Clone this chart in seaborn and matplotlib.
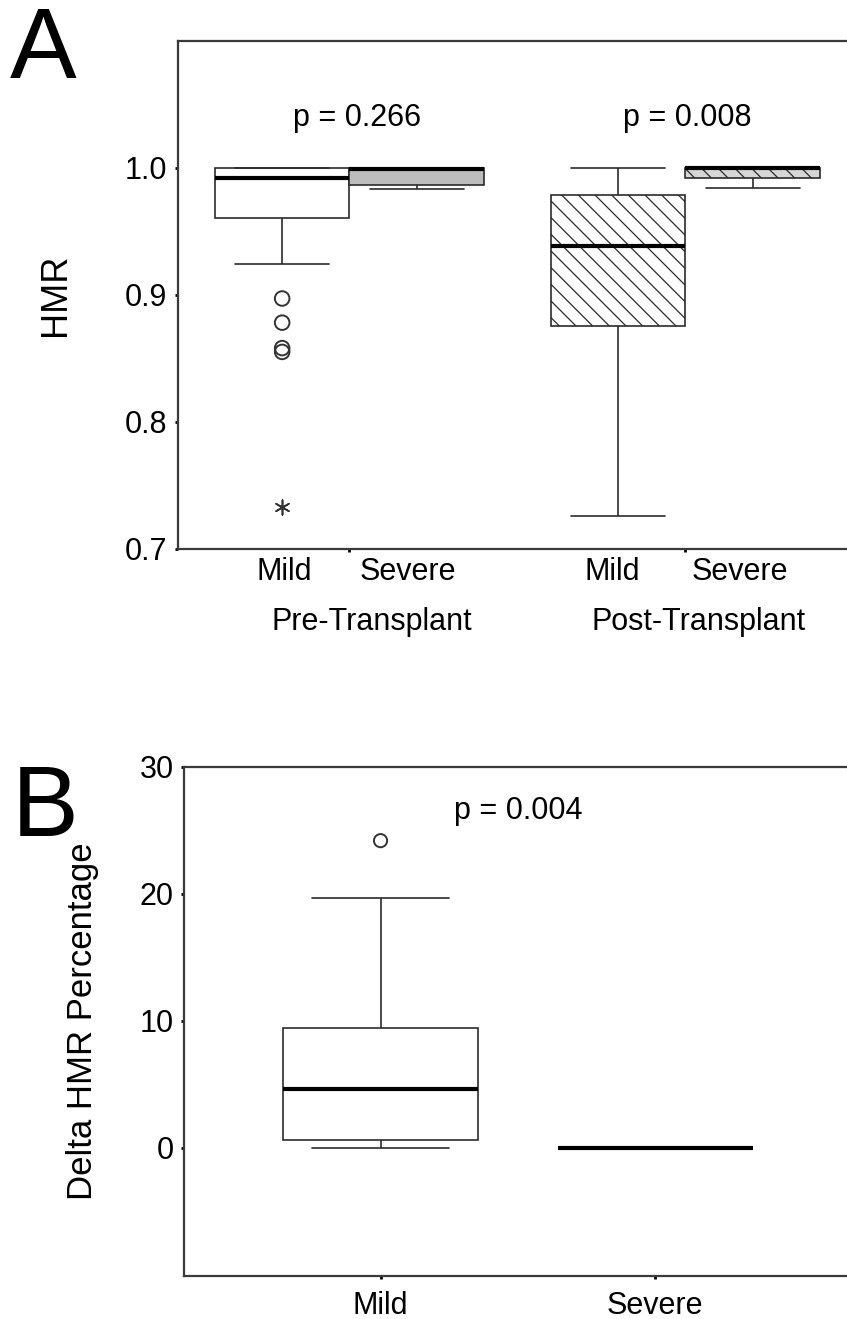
import numpy as np
import pandas as pd
import matplotlib
matplotlib.use("Agg")
import matplotlib.pyplot as plt
import matplotlib.transforms as mtransforms
import seaborn as sns

# ---------------- data ----------------
periods = ["Pre-Transplant", "Post-Transplant"]
severity = ["Mild", "Severe"]
# five-number summaries: lower whisker, Q1, median, Q3, upper whisker
pre_mild = [0.924, 0.960, 0.992, 1.000, 1.000]
pre_severe = [0.983, 0.986, 0.999, 1.000, 1.000]
post_mild = [0.726, 0.875, 0.938, 0.978, 1.000]
post_severe = [0.984, 0.992, 0.9995, 1.000, 1.000]
pre_mild_outliers = [0.897, 0.878, 0.858, 0.855]
pre_mild_extremes = [0.733]
p_texts_A = ["p = 0.266", "p = 0.008"]

delta_mild = [0.0, 0.63, 4.65, 9.45, 19.7]
delta_severe = [0.0, 0.0, 0.0, 0.0, 0.0]
delta_mild_outliers = [24.2]
p_text_B = "p = 0.004"

yticks_A = [0.7, 0.8, 0.9, 1.0]
yticks_B = [0, 10, 20, 30]

# ---------------- style ----------------
sns.set_style("ticks")
plt.rcParams["font.family"] = ["Liberation Sans", "DejaVu Sans"]
plt.rcParams["hatch.linewidth"] = 0.9
for k in ("text.color", "axes.labelcolor", "xtick.color", "ytick.color",
          "xtick.labelcolor", "ytick.labelcolor"):
    plt.rcParams[k] = "black"

W, H = 847, 1319
fig = plt.figure(figsize=(W / 100, H / 100), dpi=100)


def ax_rect(left, top, right, bottom):
    return [left / W, 1 - bottom / H, (right - left) / W, (bottom - top) / H]


axA = fig.add_axes(ax_rect(178, 41, 856.7, 549))
axB = fig.add_axes(ax_rect(184, 767, 851.6, 1276))

line_c = "#2b2b2b"

# ---------------- panel A ----------------
rowsA = []
for period, groups in zip(periods, [(pre_mild, pre_severe), (post_mild, post_severe)]):
    for sev, vals in zip(severity, groups):
        for v in vals:
            rowsA.append({"period": period, "severity": sev, "HMR": v})
dfA = pd.DataFrame(rowsA)

sns.boxplot(
    data=dfA, x="period", y="HMR", hue="severity",
    order=periods, hue_order=severity,
    width=0.8, gap=0, dodge=True, whis=(0, 100), showfliers=False,
    palette={"Mild": "white", "Severe": "#bdbdbd"}, saturation=1,
    linecolor=line_c, linewidth=1.2,
    medianprops=dict(color="black", linewidth=3),
    capwidths=0.28, legend=False, ax=axA,
)

for p in axA.patches:
    ext = p.get_path().get_extents()
    cx = (ext.x0 + ext.x1) / 2
    if abs(cx - 0.8) < 0.1:
        p.set_hatch("\\\\")
        p.set_facecolor("white")
    elif abs(cx - 1.2) < 0.1:
        p.set_hatch("\\\\")
        p.set_facecolor("#d6d6d6")

sns.scatterplot(x=[-0.2] * len(pre_mild_outliers), y=pre_mild_outliers, marker="o",
                s=110, facecolor="none", edgecolor="#333333", linewidth=1.4,
                ax=axA, legend=False)
sns.scatterplot(x=[-0.2] * len(pre_mild_extremes), y=pre_mild_extremes, marker=(6, 2, 0),
                s=110, color="#333333", linewidth=1.2, ax=axA, legend=False)

axA.set_xlim(-0.51, 1.51)
axA.set_ylim(0.7, 1.0995)
axA.set_yticks(yticks_A)
axA.set_yticklabels([f"{t:.1f}" for t in yticks_A])
axA.set_xticks([0, 1])
axA.set_xticklabels(["", ""])
axA.set_xlabel("")
axA.set_ylabel("HMR", fontsize=26)
axA.yaxis.set_label_coords(-0.155, 0.5)

for x, t in zip([0.022, 1.007], p_texts_A):
    axA.text(x, 1.039, t, ha="center", va="center", fontsize=22)

trA = mtransforms.blended_transform_factory(axA.transData, axA.transAxes)
for x, t in zip([-0.195, 0.174, 0.781, 1.162], severity * 2):
    axA.text(x, -0.045, t, transform=trA, ha="center", va="center", fontsize=22)
for x, t in zip([0.067, 1.04], periods):
    axA.text(x, -0.144, t, transform=trA, ha="center", va="center", fontsize=22)

# ---------------- panel B ----------------
dfB = pd.DataFrame({
    "severity": ["Mild"] * len(delta_mild) + ["Severe"] * len(delta_severe),
    "delta": delta_mild + delta_severe,
})
sns.boxplot(
    data=dfB, x="severity", y="delta", order=severity,
    width=0.71, whis=(0, 100), showfliers=False,
    color="white", saturation=1,
    linecolor=line_c, linewidth=1.2,
    medianprops=dict(color="black", linewidth=3),
    capwidths=0.5, ax=axB,
)
sns.scatterplot(x=[0] * len(delta_mild_outliers), y=delta_mild_outliers, marker="o",
                s=90, facecolor="none", edgecolor="#333333", linewidth=1.4,
                ax=axB, legend=False)

axB.set_xlim(-0.716, 1.716)
axB.set_ylim(-10.08, 30)
axB.set_yticks(yticks_B)
axB.set_xlabel("")
axB.set_ylabel("Delta HMR Percentage", fontsize=25)
axB.yaxis.set_label_coords(-0.128, 0.5)
axB.text(0.5, 26.5, p_text_B, ha="center", va="center", fontsize=22)

# ---------------- common axes styling ----------------
for ax in (axA, axB):
    for s in ax.spines.values():
        s.set_visible(True)
        s.set_color("#3a3a3a")
        s.set_linewidth(1.6)
    ax.tick_params(axis="both", direction="out", length=2.5, width=2,
                   color="black", labelsize=22, pad=5)
    ax.tick_params(axis="x", pad=8)
    ax.grid(False)

fig.text(10 / W, 1 - 78 / H, "A", fontsize=72, ha="left", va="baseline")
fig.text(12 / W, 1 - 836 / H, "B", fontsize=72, ha="left", va="baseline")

fig.savefig("out.png", dpi=100)
